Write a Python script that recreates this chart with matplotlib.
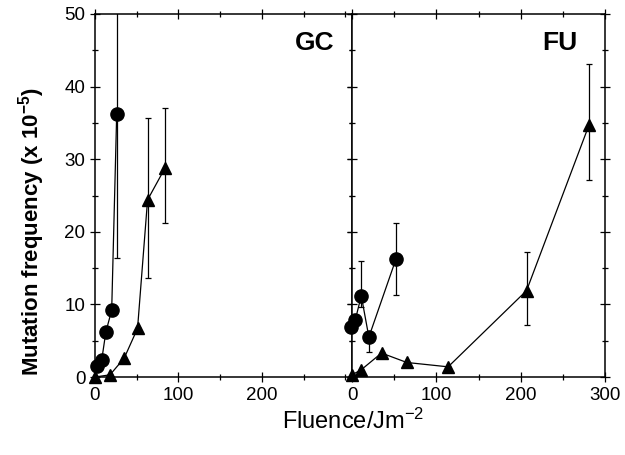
import matplotlib.pyplot as plt
from matplotlib.ticker import MultipleLocator

# GC panel
gc_circle_x = [2, 8, 13, 20, 26]
gc_circle_y = [1.5, 2.3, 6.2, 9.2, 36.2]
gc_circle_lo = [0, 0, 0, 0, 19.8]
gc_circle_hi = [0, 0, 0, 0, 20.0]

gc_tri_x = [0, 18, 35, 51, 63, 84]
gc_tri_y = [0.0, 0.3, 2.6, 6.7, 24.4, 28.8]
gc_tri_lo = [0, 0, 0, 0, 10.7, 7.6]
gc_tri_hi = [0, 0, 0, 0, 11.3, 8.3]

# FU panel
fu_circle_x = [-1, 4, 11, 20, 52]
fu_circle_y = [6.9, 7.9, 11.2, 5.5, 16.2]
fu_circle_lo = [0.7, 0, 1.5, 2.0, 4.9]
fu_circle_hi = [0.7, 0, 4.8, 0, 5.0]

fu_tri_x = [0, 11, 35, 65, 114, 207, 281]
fu_tri_y = [0.3, 1.0, 3.3, 2.0, 1.4, 11.9, 34.7]
fu_tri_lo = [0, 0, 0, 0, 0, 4.7, 7.5]
fu_tri_hi = [0, 0, 0, 0, 0, 5.3, 8.4]

x_ticks_gc = [0, 100, 200]
x_ticks_fu = [0, 100, 200, 300]

plt.rcParams["font.family"] = ["Liberation Sans", "DejaVu Sans"]
plt.rcParams["mathtext.fontset"] = "custom"
plt.rcParams["mathtext.rm"] = "Liberation Sans"
plt.rcParams["mathtext.bf"] = "Liberation Sans:bold"
plt.rcParams["mathtext.default"] = "regular"


def draw_series(ax, x, y, lo, hi, marker, size):
    bars = ax.errorbar(x, y, yerr=[lo, hi], fmt="none", ecolor="black",
                       elinewidth=0.9, capsize=2.5, capthick=0.9)
    for artist in bars.lines[2]:
        artist.set_clip_on(True)
    ax.plot(x, y, color="black", lw=0.9, marker=marker, markersize=size,
            markerfacecolor="black", markeredgecolor="black", clip_on=False,
            zorder=3)


def style_axis(ax, xticks, label):
    ax.set_ylim(0, 50)
    ax.set_xticks(xticks)
    ax.xaxis.set_minor_locator(MultipleLocator(50))
    ax.yaxis.set_major_locator(MultipleLocator(10))
    ax.yaxis.set_minor_locator(MultipleLocator(5))
    ax.tick_params(which="both", direction="inout", top=True, right=True,
                   labelsize=13.5, width=0.9)
    ax.tick_params(which="major", length=7)
    ax.tick_params(which="minor", length=4)
    ax.tick_params(axis="x", pad=4)
    for spine in ax.spines.values():
        spine.set_linewidth(1.1)
    ax.text(0.93, 0.92, label, transform=ax.transAxes, ha="right",
            va="center", fontsize=19, fontweight="bold")


fig = plt.figure(figsize=(6.25, 4.55), dpi=100)
ax1 = fig.add_axes([95 / 625, 1 - 377 / 455, 257 / 625, 363 / 455])
ax2 = fig.add_axes([352 / 625, 1 - 377 / 455, 253 / 625, 363 / 455])

draw_series(ax1, gc_circle_x, gc_circle_y, gc_circle_lo, gc_circle_hi, "o", 9.5)
draw_series(ax1, gc_tri_x, gc_tri_y, gc_tri_lo, gc_tri_hi, "^", 9)
ax1.set_xlim(0, 308)
style_axis(ax1, x_ticks_gc, "GC")

draw_series(ax2, fu_circle_x, fu_circle_y, fu_circle_lo, fu_circle_hi, "o", 9.5)
draw_series(ax2, fu_tri_x, fu_tri_y, fu_tri_lo, fu_tri_hi, "^", 9)
ax2.set_xlim(0, 300)
style_axis(ax2, x_ticks_fu, "FU")
ax2.tick_params(labelleft=False)
ax2.texts[0].set_position((0.89, 0.92))

ax1.set_ylabel(r"Mutation frequency (x 10$^{\mathbf{-5}}$)", fontsize=16,
               fontweight="bold")
ax1.yaxis.set_label_coords(-0.187, 0.40)
fig.text(0.565, 0.075, "Fluence/Jm$^{-2}$", ha="center", va="center",
         fontsize=17)

fig.savefig("out.png", dpi=100)
